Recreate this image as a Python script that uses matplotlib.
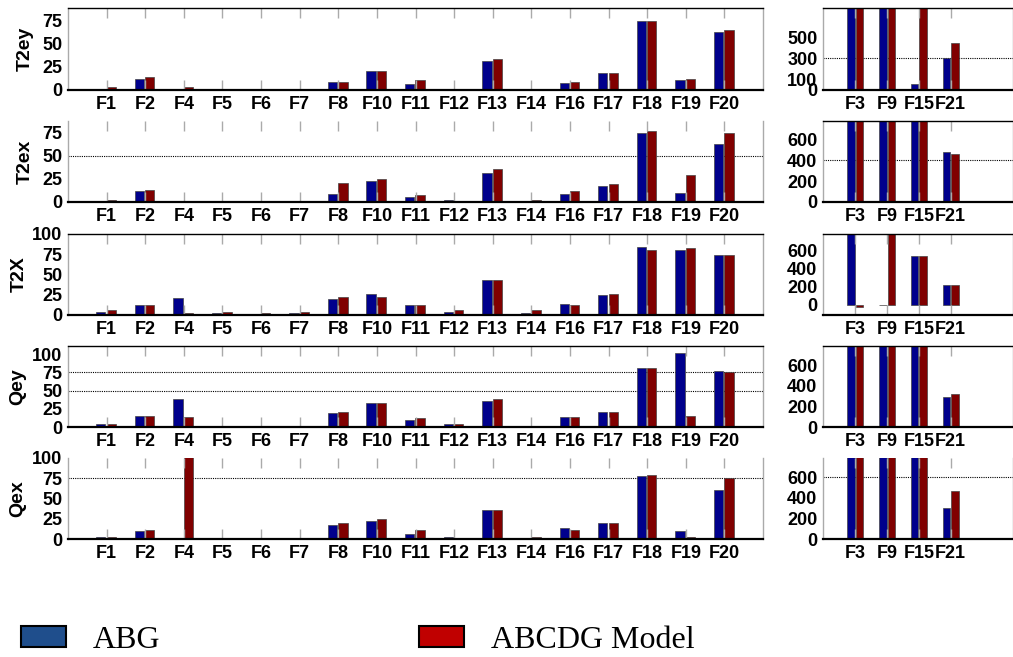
import matplotlib.pyplot as plt
from matplotlib.patches import Patch
import numpy as np

W, H = 1013, 657

main_cats = ["F1", "F2", "F4", "F5", "F6", "F7", "F8", "F10", "F11",
             "F12", "F13", "F14", "F16", "F17", "F18", "F19", "F20"]
side_cats = ["F3", "F9", "F15", "F21"]

# ABG vs ABCDG model errors, per feature
t2ey_abg = [1, 12, 0, 0, 0, 0, 9, 20.5, 6.5, 0, 31, 0, 7.5, 18.5, 74, 10.5, 62.5]
t2ey_abcdg = [3, 14, 3, 1, 1, 1, 9, 20.5, 10.5, 1, 33, 1, 9, 18.5, 74, 12, 64.5]
t2ey_abg_side = [950, 950, 57, 300]
t2ey_abcdg_side = [950, 950, 950, 448]

t2ex_abg = [1.4, 12.2, 0, 0, 0, 0, 9, 23, 5.8, 2.5, 31.7, 0, 9, 17.6, 74.8, 10, 63]
t2ex_abcdg = [2.5, 13.3, 1.4, 1.4, 1.4, 1.4, 21, 25.2, 7.6, 1.4, 36, 2.5, 12.2, 19.8, 77, 29.5, 74.8]
t2ex_abg_side = [950, 950, 950, 479]
t2ex_abcdg_side = [950, 950, 950, 466]

t2x_abg = [3.3, 12.4, 21, 2, 0, 2, 19.8, 26, 12.4, 3.3, 43.4, 2, 13.6, 24.8, 84.3, 80.6, 74.4]
t2x_abcdg = [5.8, 12.4, 2, 3.3, 2, 3.3, 22.3, 22.3, 12.4, 5.8, 43.4, 5.8, 12.4, 26, 80.6, 83, 74.4]
t2x_abg_side = [950, 0, 540, 220]
t2x_abcdg_side = [-28, 950, 540, 220]

qey_abg = [4, 15, 39, 0, 0, 0, 19, 32.4, 9.8, 4, 35, 0, 13.8, 20.4, 80.3, 101.6, 76.3]
qey_abcdg = [4, 15, 13.3, 1.3, 1.3, 1.3, 20.4, 32.4, 12, 4, 37.7, 1.3, 13.8, 20.4, 80.3, 15, 75]
qey_abg_side = [950, 950, 950, 291]
qey_abcdg_side = [950, 950, 950, 322]

qex_abg = [2.8, 10, 0, 0, 0, 0, 17.4, 22.3, 6.5, 2.8, 35.7, 0, 13.8, 19.9, 78.2, 10, 60]
qex_abcdg = [2.8, 11.3, 105, 1.2, 1.2, 1.2, 19.9, 24.7, 11.3, 1.6, 35.7, 2.8, 11.3, 19.9, 79.4, 2.8, 75.8]
qex_abg_side = [950, 950, 950, 298]
qex_abcdg_side = [950, 950, 950, 465]

row_labels = ["T2ey", "T2ex", "T2X", "Qey", "Qex"]

blue = "#00008c"
red = "#800000"
tick_font = {"family": "Liberation Sans", "weight": "bold", "size": 13}
label_font = {"family": "Liberation Sans", "weight": "bold", "size": 14}

# per row: series, main ylim/ticks, side ylim/ticks, dotted lines,
# top spine flags, ylabel right edge (px) and the row's pixel extent
rows = [
    (t2ey_abg, t2ey_abcdg, t2ey_abg_side, t2ey_abcdg_side, (0, 88), [0, 25, 50, 75],
     (0, 775), [0, 100, 300, 500], [], [300], True, True, 34, (8, 90)),
    (t2ex_abg, t2ex_abcdg, t2ex_abg_side, t2ex_abcdg_side, (0, 88), [0, 25, 50, 75],
     (0, 780), [0, 200, 400, 600], [50], [400], False, True, 34, (121, 202)),
    (t2x_abg, t2x_abcdg, t2x_abg_side, t2x_abcdg_side, (0, 100), [0, 25, 50, 75, 100],
     (-110, 775), [0, 200, 400, 600], [], [], True, True, 28, (234, 315)),
    (qey_abg, qey_abcdg, qey_abg_side, qey_abcdg_side, (0, 111), [0, 25, 50, 75, 100],
     (0, 790), [0, 200, 400, 600], [50, 75], [], True, True, 26, (346, 427)),
    (qex_abg, qex_abcdg, qex_abg_side, qex_abcdg_side, (0, 100), [0, 25, 50, 75, 100],
     (0, 785), [0, 200, 400, 600], [75], [600], False, False, 26, (458, 539)),
]

fig = plt.figure(figsize=(W / 100, H / 100), dpi=100)


def px_axes(x0, x1, y0, y1):
    return fig.add_axes([x0 / W, 1 - y1 / H, (x1 - x0) / W, (y1 - y0) / H])


def style(ax, cats, ylim, yticks, grid, top):
    x = np.arange(len(cats))
    ax.set_xlim(-1, len(cats) if len(cats) > 4 else 4.95)
    ax.set_ylim(*ylim)
    ax.set_xticks(x)
    ax.set_xticklabels(cats, fontdict=tick_font)
    ax.set_yticks(yticks)
    ax.set_yticklabels([str(t) for t in yticks], fontdict=tick_font)
    ax.tick_params(axis="x", direction="in", length=7, width=1, color="#aaaaaa",
                   top=True, pad=4)
    ax.tick_params(axis="y", length=0, pad=4)
    for y in grid:
        ax.axhline(y, color="black", lw=0.8, ls=(0, (1, 1)), zorder=0.5)
    ax.spines["bottom"].set_linewidth(1.6)
    ax.spines["bottom"].set_color("black")
    ax.spines["top"].set_linewidth(1.0)
    ax.spines["top"].set_visible(top)
    for s in ("left", "right"):
        ax.spines[s].set_color("#aaaaaa")
        ax.spines[s].set_linewidth(1.0)


for label, row in zip(row_labels, rows):
    (abg, abcdg, abg_s, abcdg_s, ylim, yticks, ylim_s, yticks_s,
     grid, grid_s, top, top_s, lab_x, (y0, y1)) = row

    ax = px_axes(68, 763, y0, y1)
    x = np.arange(len(main_cats))
    ax.bar(x - 0.15, abg, 0.24, color=blue, edgecolor="#444444", lw=0.5)
    ax.bar(x + 0.12, abcdg, 0.24, color=red, edgecolor="#444444", lw=0.5)
    style(ax, main_cats, ylim, yticks, grid, top)
    ax.set_ylabel(label, fontdict=label_font)
    ax.yaxis.set_label_coords((lab_x - 68) / 695, 0.5)

    axs = px_axes(823, 1013, y0, y1)
    xs = np.arange(len(side_cats))
    axs.bar(xs - 0.13, abg_s, 0.24, color=blue, edgecolor="#444444", lw=0.5)
    axs.bar(xs + 0.14, abcdg_s, 0.24, color=red, edgecolor="#444444", lw=0.5)
    style(axs, side_cats, ylim_s, yticks_s, grid_s, top_s)

handles = [Patch(facecolor="#1f4e8c", edgecolor="black", lw=1.5, label="ABG"),
           Patch(facecolor="#c00000", edgecolor="black", lw=1.5, label="ABCDG Model")]
fig.legend(handles=handles, loc="center left", bbox_to_anchor=(21 / W, 1 - 640 / H),
           ncol=2, frameon=False, prop={"family": "Liberation Serif", "size": 23},
           handlelength=1.4, handleheight=0.65, handletextpad=0.85,
           columnspacing=8.1, borderaxespad=0, borderpad=0)

fig.savefig("out.png", dpi=100)
